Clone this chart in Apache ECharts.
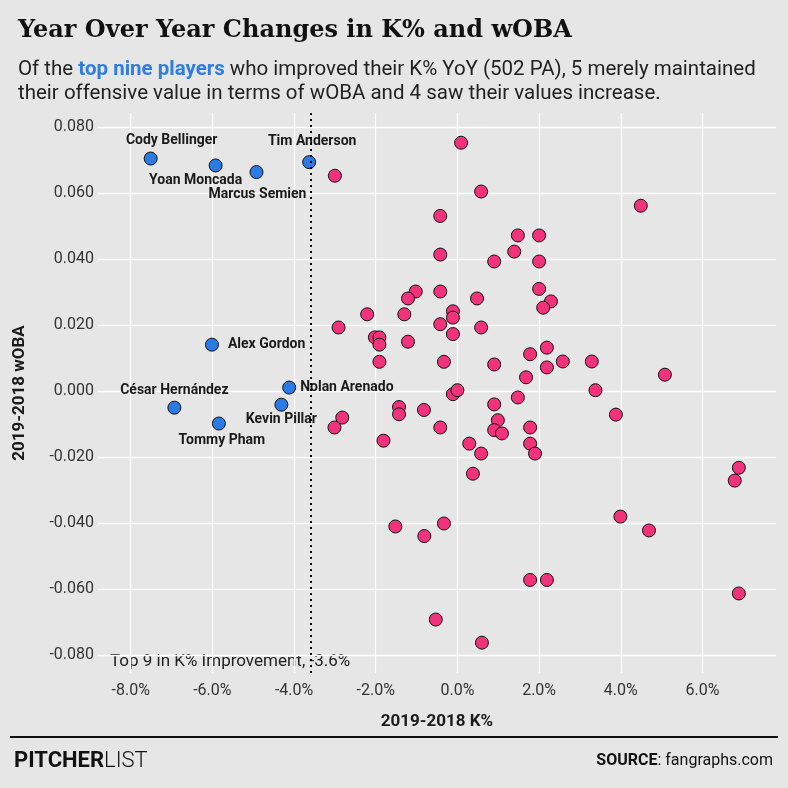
<!DOCTYPE html>
<html>
<head>
<meta charset="utf-8">
<script src="https://cdn.jsdelivr.net/npm/echarts@6.0.0/dist/echarts.min.js"></script>
<style>
  html, body { margin: 0; padding: 0; background: #e6e6e6; }
  #main { width: 788px; height: 788px; }
</style>
</head>
<body>
<div id="main"></div>
<script>
// top nine K% improvers (blue)
var topNames = ['Cody Bellinger', 'Yoan Moncada', 'Marcus Semien', 'Tim Anderson', 'Alex Gordon',
  'César Hernández', 'Tommy Pham', 'Kevin Pillar', 'Nolan Arenado'];
var topK = [-7.51, -5.92, -4.92, -3.63, -6.01, -6.93, -5.84, -4.31, -4.12];
var topWoba = [0.0704, 0.0683, 0.0663, 0.0693, 0.0140, -0.0051, -0.0099, -0.0042, 0.0010];

// everyone else (pink)
var restK = [-3.00, 0.09, 0.58, -0.42, 4.49, 1.48, 2.00, 1.39, -0.42, 0.90,
  2.00, -1.02, -0.42, 2.00, -1.21, 0.48, 2.29, 2.10, -2.21, -1.30,
  -0.11, -0.11, -2.91, -0.42, 0.58, -0.11, -2.02, -1.91, -1.91, -1.21,
  1.78, 2.19, -1.91, -0.33, 0.90, 2.19, 2.58, 3.29, 1.68, 5.08,
  3.38, -0.11, 0.00, 1.48, 0.90, 3.88, -1.43, -1.43, -0.82, -2.82,
  -3.01, -0.42, 0.99, 0.90, 1.09, 1.78, 1.78, 1.90, -1.81, 0.29,
  0.58, 0.38, -1.52, -0.33, -0.81, 6.89, 6.79, 3.99, 4.69, 1.78,
  2.19, 6.89, -0.53, 0.60];
var restWoba = [0.0652, 0.0752, 0.0604, 0.0530, 0.0561, 0.0471, 0.0471, 0.0422, 0.0413, 0.0392,
  0.0392, 0.0301, 0.0301, 0.0309, 0.0280, 0.0280, 0.0271, 0.0252, 0.0232, 0.0232,
  0.0241, 0.0222, 0.0192, 0.0202, 0.0192, 0.0172, 0.0162, 0.0162, 0.0140, 0.0149,
  0.0111, 0.0131, 0.0088, 0.0088, 0.0080, 0.0071, 0.0089, 0.0089, 0.0041, 0.0049,
  0.0002, -0.0010, 0.0002, -0.0020, -0.0041, -0.0072, -0.0049, -0.0071, -0.0058, -0.0081,
  -0.0111, -0.0111, -0.0089, -0.0119, -0.0129, -0.0111, -0.0160, -0.0190, -0.0151, -0.0160,
  -0.0190, -0.0251, -0.0411, -0.0402, -0.0440, -0.0233, -0.0272, -0.0381, -0.0423, -0.0573,
  -0.0573, -0.0614, -0.0693, -0.0763];

var threshold = -3.6;

var pink = '#f2327b';
var blue = '#2b7be4';
var ink = '#1a1a1a';

// where each name sits relative to its dot
var labelPlace = {
  'Cody Bellinger': { offset: [21, -18], align: 'center' },
  'Yoan Moncada': { offset: [-20, 15], align: 'center' },
  'Marcus Semien': { offset: [1, 22], align: 'center' },
  'Tim Anderson': { offset: [3, -21], align: 'center' },
  'Alex Gordon': { offset: [16, 0], align: 'left' },
  'César Hernández': { offset: [0, -17], align: 'center' },
  'Tommy Pham': { offset: [3, 17], align: 'center' },
  'Kevin Pillar': { offset: [0, 15], align: 'center' },
  'Nolan Arenado': { offset: [11, 0], align: 'left' }
};

var topData = topNames.map(function(n, i) {
  var p = labelPlace[n];
  return {
    name: n,
    value: [topK[i], topWoba[i]],
    label: { show: true, position: 'inside', offset: p.offset, align: p.align, formatter: n }
  };
});
var restData = restK.map(function(k, i) { return [k, restWoba[i]]; });

var chart = echarts.init(document.getElementById('main'));

chart.setOption({
  backgroundColor: '#e6e6e6',
  animation: false,
  textStyle: { fontFamily: 'Roboto' },
  title: [{
    text: 'Year Over Year Changes in K% and wOBA',
    left: 13,
    top: 14,
    textStyle: { fontFamily: 'DejaVu Serif', fontWeight: 'bold', fontSize: 24, color: '#111' }
  }, {
    text: '{t|Of the }{b|top nine players}{t| who improved their K% YoY (502 PA), 5 merely maintained}\n{t|their offensive value in terms of wOBA and 4 saw their values increase.}',
    left: 13,
    top: 53,
    textStyle: {
      fontWeight: 'normal',
      rich: {
        t: { fontFamily: 'Roboto', fontSize: 20.5, fontWeight: 'normal', color: '#222', lineHeight: 24 },
        b: { fontFamily: 'Roboto', fontSize: 20.5, fontWeight: 'bold', color: '#2f7de1', lineHeight: 24 }
      }
    }
  }],
  grid: { left: 98, right: 12, top: 113, bottom: 115 },
  xAxis: {
    type: 'value',
    min: -8.8,
    max: 7.8,
    splitNumber: 8,
    minInterval: 2,
    maxInterval: 2,
    name: '2019-2018 K%',
    nameLocation: 'middle',
    nameGap: 40,
    nameTextStyle: { fontFamily: 'Roboto', fontWeight: 'bold', fontSize: 17, color: ink },
    axisLine: { show: false },
    axisTick: { show: true, length: 4, lineStyle: { color: '#ffffff' } },
    axisLabel: {
      color: '#333', fontSize: 16, margin: 10,
      showMinLabel: false, showMaxLabel: false,
      formatter: function(v) { return v.toFixed(1) + '%'; }
    },
    splitLine: { show: true, showMinLine: false, showMaxLine: false, lineStyle: { color: '#ffffff', width: 1.3 } }
  },
  yAxis: {
    type: 'value',
    min: -0.0855,
    max: 0.0842,
    splitNumber: 8,
    minInterval: 0.02,
    maxInterval: 0.02,
    name: '2019-2018 wOBA',
    nameLocation: 'middle',
    nameGap: 70,
    nameTextStyle: { fontFamily: 'Roboto', fontWeight: 'bold', fontSize: 17, color: ink },
    axisLine: { show: false },
    axisTick: { show: true, length: 3, lineStyle: { color: '#ffffff' } },
    axisLabel: {
      color: '#333', fontSize: 16, margin: 4,
      showMinLabel: false, showMaxLabel: false,
      formatter: function(v) { return v.toFixed(3); }
    },
    splitLine: { show: true, showMinLine: false, showMaxLine: false, lineStyle: { color: '#ffffff', width: 1.3 } }
  },
  series: [{
    name: 'others',
    type: 'scatter',
    data: restData,
    symbolSize: 13,
    itemStyle: { color: pink, borderColor: '#111', borderWidth: 1, opacity: 1 },
    z: 2
  }, {
    name: 'top nine',
    type: 'scatter',
    data: topData,
    symbolSize: 13,
    itemStyle: { color: blue, borderColor: '#111', borderWidth: 1, opacity: 1 },
    label: { fontFamily: 'Roboto', fontWeight: 'bold', fontSize: 14, color: ink },
    z: 3
  }, {
    name: 'cutoff',
    type: 'scatter',
    data: [],
    z: 4,
    markLine: {
      silent: true,
      symbol: ['none', 'none'],
      animation: false,
      lineStyle: { color: '#000', type: [2, 4], width: 2 },
      label: { show: false },
      data: [{ xAxis: threshold }]
    }
  }],
  graphic: [{
    type: 'text',
    left: 110,
    top: 653,
    style: {
      text: 'Top 9 in K% Improvement, ' + threshold.toFixed(1) + '%',
      font: '17px Roboto',
      fill: '#222'
    }
  }, {
    type: 'line',
    shape: { x1: 10, y1: 737, x2: 778, y2: 737 },
    style: { stroke: '#111', lineWidth: 2 }
  }, {
    type: 'text',
    left: 14,
    top: 750,
    style: {
      text: '{b|PITCHER}{l|LIST}',
      rich: {
        b: { font: 'bold 22px Roboto', fill: '#111' },
        l: { font: '300 22px Roboto', fill: '#111' }
      }
    }
  }, {
    type: 'text',
    right: 15,
    top: 753,
    style: {
      text: '{b|SOURCE}{t|: fangraphs.com}',
      rich: {
        b: { font: 'bold 16px Roboto', fill: '#111' },
        t: { font: '16px Roboto', fill: '#111' }
      }
    }
  }]
});
</script>
</body>
</html>
